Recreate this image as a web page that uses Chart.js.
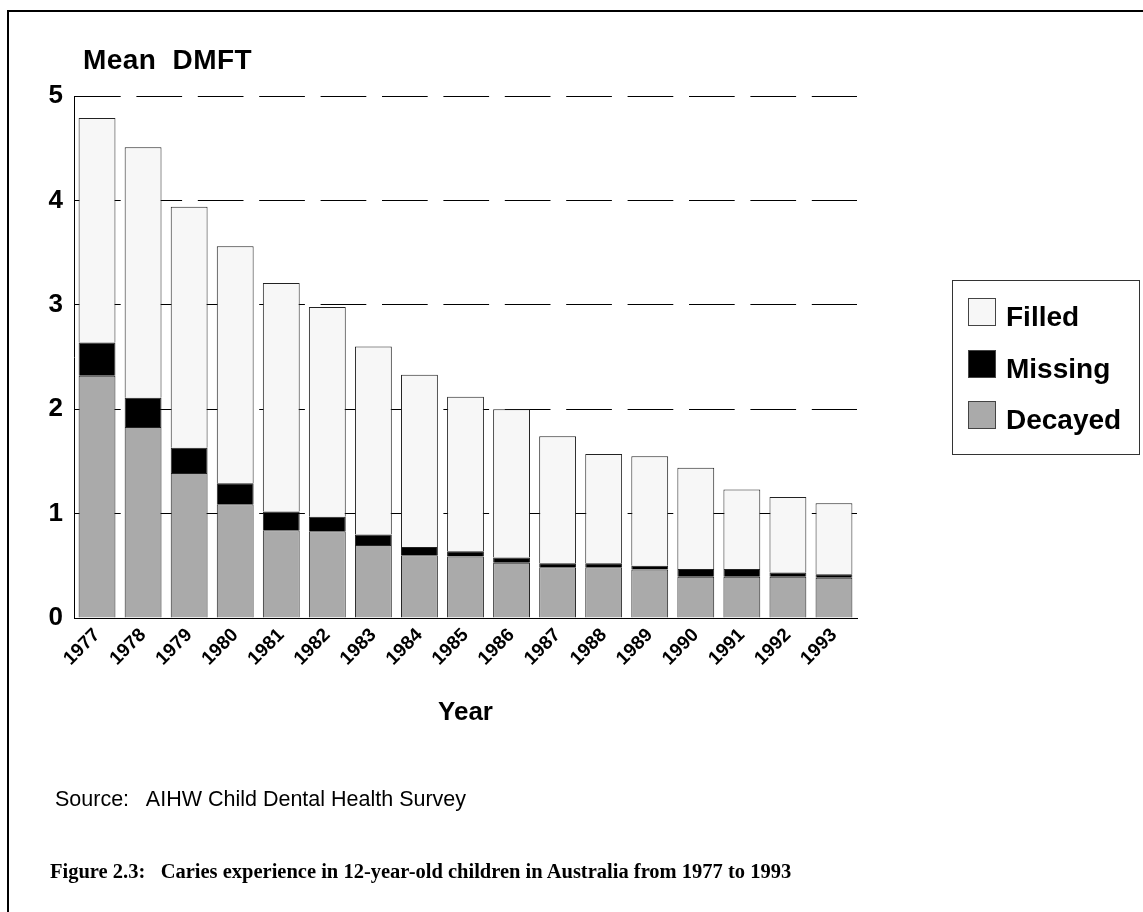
<!DOCTYPE html>
<html>
<head>
<meta charset="utf-8">
<script src="https://cdn.jsdelivr.net/npm/chart.js@4.4.1/dist/chart.umd.min.js"></script>
<style>
  html, body { margin: 0; padding: 0; background: #fff; }
  body { width: 1143px; height: 912px; position: relative; overflow: hidden; }
  #frame { position: absolute; left: 7px; top: 10px; right: -10px; bottom: -10px;
           border-left: 2px solid #000; border-top: 2px solid #000; }
  #wrap { position: absolute; left: 0; top: 0; width: 1143px; height: 912px; }
  .txt { position: absolute; white-space: pre; color: #000; }
  #ytitle { left: 83px; top: 46px; font: bold 28px/28px "Liberation Sans", Arial, sans-serif; letter-spacing: 0.4px; }
  #source { left: 55px; top: 789px; font: 21.5px/21.5px "Liberation Sans", Arial, sans-serif; }
  #caption { left: 50px; top: 861px; font: bold 20.5px/20.5px "Liberation Serif", "Times New Roman", serif; }
</style>
</head>
<body>
<div id="frame"></div>
<div id="wrap"><canvas id="c" width="1143" height="912"></canvas></div>
<div class="txt" id="ytitle">Mean  DMFT</div>
<div class="txt" id="source">Source:   AIHW Child Dental Health Survey</div>
<div class="txt" id="caption">Figure 2.3:   Caries experience in 12-year-old children in Australia from 1977 to 1993</div>
<script>
const years = ['1977','1978','1979','1980','1981','1982','1983','1984','1985','1986','1987','1988','1989','1990','1991','1992','1993'];
const decayed = [2.32, 1.83, 1.39, 1.09, 0.84, 0.83, 0.70, 0.60, 0.59, 0.53, 0.485, 0.485, 0.465, 0.395, 0.395, 0.395, 0.385];
const missing = [0.32, 0.28, 0.24, 0.20, 0.18, 0.14, 0.10, 0.08, 0.05, 0.05, 0.04, 0.04, 0.035, 0.075, 0.075, 0.04, 0.035];
const filled  = [2.15, 2.40, 2.31, 2.27, 2.19, 2.01, 1.80, 1.65, 1.48, 1.42, 1.215, 1.045, 1.05, 0.97, 0.76, 0.725, 0.68];
const yTicks = [0, 1, 2, 3, 4, 5];
const seriesNames = ['Decayed', 'Missing', 'Filled'];
const seriesColors = ['#aaaaaa', '#000000', '#f7f7f7'];

const FONT = '"Liberation Sans", Arial, sans-serif';

const boxLegend = {
  id: 'boxLegend',
  afterDraw(chart) {
    const ctx = chart.ctx;
    const items = chart.data.datasets.map(d => ({ label: d.label, bg: d.backgroundColor })).reverse();
    ctx.save();
    ctx.strokeStyle = '#333';
    ctx.lineWidth = 1;
    ctx.strokeRect(952.5, 280.5, 187, 174);
    items.forEach((it, i) => {
      const y = Math.round(298 + i * 51.7);
      ctx.fillStyle = it.bg;
      ctx.fillRect(968, y, 28, 28);
      ctx.strokeStyle = '#444';
      ctx.strokeRect(968.5, y + 0.5, 27, 27);
      ctx.fillStyle = '#000';
      ctx.font = 'bold 28px ' + FONT;
      ctx.textBaseline = 'alphabetic';
      ctx.textAlign = 'left';
      ctx.fillText(it.label, 1006, y + 28);
    });
    ctx.restore();
  }
};

new Chart(document.getElementById('c'), {
  type: 'bar',
  data: {
    labels: years,
    datasets: [
      { label: seriesNames[0], data: decayed, backgroundColor: seriesColors[0] },
      { label: seriesNames[1], data: missing, backgroundColor: seriesColors[1] },
      { label: seriesNames[2], data: filled,  backgroundColor: seriesColors[2] }
    ]
  },
  options: {
    responsive: false,
    animation: false,
    devicePixelRatio: 1,
    layout: { padding: { top: 96, left: 0, right: 286, bottom: 0 } },
    datasets: {
      bar: { borderColor: '#222', borderWidth: 1, categoryPercentage: 1.0, barPercentage: 0.8 }
    },
    plugins: { legend: { display: false }, tooltip: { enabled: false }, title: { display: false } },
    scales: {
      x: {
        stacked: true,
        grid: { display: false, drawTicks: false },
        border: { display: true, color: '#000', width: 1 },
        ticks: {
          color: '#000', font: { family: FONT, size: 19, weight: 'bold' },
          autoSkip: false, maxRotation: 45, minRotation: 45, padding: 6
        },
        title: {
          display: true, text: 'Year', color: '#000',
          font: { family: FONT, size: 26, weight: 'bold' },
          padding: { top: 0, bottom: 184 }
        },
        afterFit(scale) { scale.height = 294; }
      },
      y: {
        stacked: true,
        min: yTicks[0], max: yTicks[yTicks.length - 1],
        afterBuildTicks(scale) { scale.ticks = yTicks.map(v => ({ value: v })); },
        grid: { display: true, color: '#000', lineWidth: 1, drawTicks: false },
        border: { display: true, color: '#000', width: 1, dash: [45.7, 15.7] },
        ticks: { color: '#000', font: { family: FONT, size: 26, weight: 'bold' }, padding: 11 },
        afterFit(scale) { scale.width = 74; }
      }
    }
  },
  plugins: [boxLegend]
});
</script>
</body>
</html>
